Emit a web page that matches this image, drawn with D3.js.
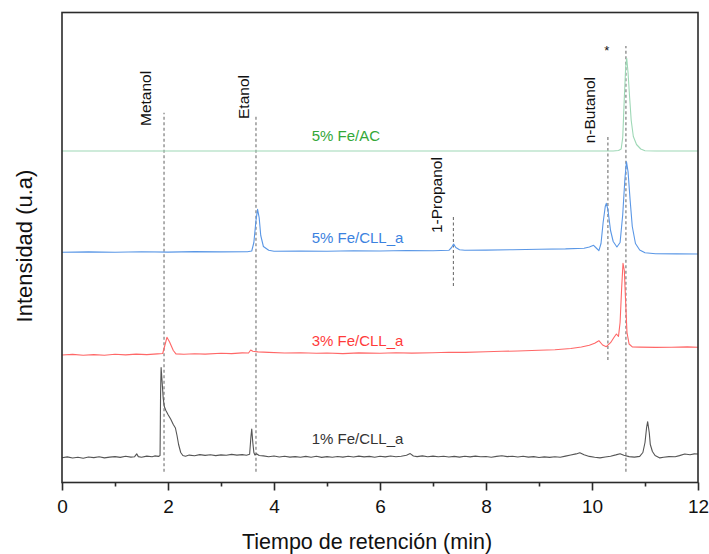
<!DOCTYPE html>
<html>
<head>
<meta charset="utf-8">
<script src="https://cdn.jsdelivr.net/npm/d3@7"></script>
<style>
  html, body { margin: 0; padding: 0; background: #fff; }
  svg text { font-family: "Liberation Sans", Arial, sans-serif; }
</style>
</head>
<body>
<svg id="chart" width="709" height="554"></svg>
<script>
// Chromatogram traces: [retention time (min), intensity (u.a)]
const traceAC5 = [
  [0, 331.5], [2, 331.5], [5, 331.5], [8, 331.5], [10.4, 331.5], [10.5, 332], [10.55, 333.5],
  [10.58, 345], [10.61, 385], [10.635, 415], [10.655, 424.2], [10.68, 410], [10.71, 385],
  [10.74, 362], [10.78, 346], [10.84, 338], [10.92, 333.5], [11.0, 331.8], [11.2, 331.5], [12, 331.5]
];
const traceCLL5 = [
  [0, 230.2], [0.5, 230.6], [1.0, 230.3], [1.5, 230.8], [2.0, 230.4], [2.5, 230.9], [3.0, 230.6],
  [3.5, 230.8], [3.58, 231.5], [3.62, 240], [3.66, 262], [3.69, 273.2], [3.72, 265], [3.75, 247],
  [3.8, 236], [3.9, 232.2], [4.0, 231.2], [4.5, 231.5], [5.0, 231.2], [5.5, 231.8], [6.0, 231.5],
  [6.5, 232], [7.0, 231.8], [7.3, 232.2], [7.35, 235], [7.39, 238.5], [7.43, 235], [7.5, 232.8],
  [7.6, 232.2], [8.0, 232.4], [8.5, 232.8], [9.0, 233.2], [9.5, 233.6], [9.85, 234.3], [9.95, 235.5],
  [10.03, 237.2], [10.08, 234.5], [10.13, 231.8], [10.17, 239], [10.21, 260], [10.25, 276],
  [10.27, 279.2], [10.3, 273], [10.35, 252], [10.4, 241], [10.47, 235.5], [10.53, 240], [10.58, 268],
  [10.62, 303], [10.65, 320.8], [10.68, 311], [10.72, 282], [10.76, 256], [10.82, 239], [10.9, 232.5],
  [11.0, 229.8], [11.2, 228.7], [11.6, 228.6], [12, 228.5]
];
const traceCLL3 = [
  [0, 127.5], [0.2, 128.1], [0.4, 127.3], [0.6, 127.9], [0.8, 127.2], [1.0, 128.2], [1.2, 127.6],
  [1.4, 128.4], [1.6, 127.9], [1.8, 128.6], [1.9, 129], [1.95, 139], [1.98, 145.2], [2.03, 140.5],
  [2.1, 132], [2.15, 128.6], [2.3, 128.2], [2.5, 128.8], [2.7, 128.4], [3.0, 129.2], [3.2, 128.9],
  [3.4, 129.6], [3.52, 129.5], [3.56, 132.5], [3.6, 131.2], [3.7, 130.6], [3.9, 130.1], [4.2, 129.5],
  [4.5, 129.8], [4.8, 129.2], [5.0, 129.5], [5.3, 128.9], [5.6, 129.6], [6.0, 129.2], [6.3, 129.7],
  [6.6, 129.4], [7.0, 129.8], [7.3, 130.3], [7.6, 130.1], [8.0, 130.7], [8.3, 131.2], [8.6, 131.5],
  [9.0, 132.2], [9.3, 132.8], [9.6, 134], [9.8, 135.5], [9.95, 137.2], [10.05, 139.3], [10.13, 141.8],
  [10.2, 137.5], [10.27, 135.8], [10.35, 139.8], [10.42, 145.5], [10.46, 148.5], [10.5, 146.2],
  [10.53, 160], [10.56, 195], [10.585, 219.2], [10.61, 212], [10.635, 180], [10.66, 150],
  [10.7, 138.5], [10.76, 135.6], [10.9, 135.4], [11.2, 135.1], [11.5, 135.3], [11.8, 135.6], [12, 135.2]
];
const traceCLL1 = [
  [0, 24.8], [0.1, 25.6], [0.2, 24.5], [0.3, 25.3], [0.4, 24.2], [0.5, 25.5], [0.6, 24.9], [0.7, 25.8],
  [0.8, 24.6], [0.9, 25.4], [1.0, 25.9], [1.1, 25.1], [1.2, 26.2], [1.3, 25.4], [1.37, 25.8],
  [1.41, 28.6], [1.44, 25.9], [1.5, 25.2], [1.6, 26.4], [1.7, 25.7], [1.75, 26.6], [1.82, 26.1],
  [1.85, 27], [1.86, 90], [1.87, 115], [1.89, 100], [1.91, 84], [1.93, 76], [1.96, 72], [2.0, 68],
  [2.05, 63.5], [2.1, 58], [2.14, 54.5], [2.17, 47], [2.2, 38], [2.24, 30], [2.28, 27], [2.33, 26.2],
  [2.4, 27.4], [2.5, 26.8], [2.6, 27.9], [2.7, 27.1], [2.8, 27.8], [2.9, 26.9], [3.0, 27.6], [3.1, 27.2],
  [3.2, 28.1], [3.3, 27.4], [3.4, 27.9], [3.48, 27.2], [3.54, 28.2], [3.565, 46], [3.58, 53.5],
  [3.6, 40], [3.62, 30], [3.64, 27.5], [3.67, 28.8], [3.72, 27], [3.8, 26.6], [3.9, 25.8], [4.0, 26.5],
  [4.1, 25.5], [4.2, 26.3], [4.3, 25.4], [4.4, 25.9], [4.5, 25.2], [4.6, 26.1], [4.7, 25.3], [4.8, 26.2],
  [4.9, 25.1], [5.0, 25.9], [5.1, 25.2], [5.2, 26.0], [5.3, 25.4], [5.4, 26.3], [5.5, 25.5], [5.6, 26.4],
  [5.7, 25.6], [5.8, 26.1], [5.9, 25.3], [6.0, 26.2], [6.1, 25.6], [6.2, 26.5], [6.3, 25.8], [6.4, 26.3],
  [6.5, 27.2], [6.57, 28.9], [6.63, 26.5], [6.7, 25.9], [6.8, 26.6], [6.9, 25.8], [7.0, 26.4],
  [7.1, 25.7], [7.2, 26.3], [7.3, 25.5], [7.4, 26.1], [7.5, 25.4], [7.6, 26.2], [7.7, 25.6], [7.8, 26.4],
  [7.9, 25.7], [8.0, 26.0], [8.1, 25.3], [8.2, 26.1], [8.3, 26.8], [8.4, 25.9], [8.5, 26.3], [8.6, 25.5],
  [8.7, 26.2], [8.8, 25.4], [8.9, 25.9], [9.0, 25.0], [9.1, 25.6], [9.2, 25.1], [9.3, 25.8], [9.4, 25.3],
  [9.5, 26.4], [9.6, 27.5], [9.7, 28.6], [9.77, 29.8], [9.85, 27.8], [9.95, 26.1], [10.05, 25.2],
  [10.15, 24.6], [10.25, 25.5], [10.35, 26.3], [10.45, 27.6], [10.53, 28.8], [10.6, 27.2], [10.7, 25.9],
  [10.8, 25.4], [10.9, 26.1], [10.96, 30], [11.0, 40], [11.03, 55], [11.05, 60.8], [11.08, 50],
  [11.1, 38], [11.14, 31], [11.19, 27], [11.28, 24.6], [11.35, 25.3], [11.45, 25.9], [11.57, 25.8],
  [11.65, 26.9], [11.75, 28.5], [11.85, 27.8], [11.93, 28.6], [12, 28.5]
];

// Trace names, colours and label positions (time, intensity at the label baseline)
const seriesNames = ["5% Fe/AC", "5% Fe/CLL_a", "3% Fe/CLL_a", "1% Fe/CLL_a"];
const seriesLineColors = ["#9ed8b6", "#5a97e6", "#ff6767", "#555555"];
const seriesTextColors = ["#33a838", "#3b82e0", "#ff3b3b", "#333333"];
const seriesLabelAt = [[4.71, 341.5], [4.71, 239.2], [4.71, 136.5], [4.71, 38.5]];

// Compound markers: name, retention time, dashed line span, label bottom and baseline offset
const compoundNames = ["Metanol", "Etanol", "1-Propanol", "n-Butanol"];
const compoundTimes = [1.925, 3.66, 7.385, 10.3];
const compoundSpans = [[10.8, 369.8], [10.8, 367.5], [196.5, 267.5], [122.5, 347.5]];
const compoundLabelBottom = [356.5, 363.5, 249.5, 339.2];
const compoundLabelTime = [1.68, 3.53, 7.17, 10.05];

// Unidentified peak marked with an asterisk
const starTime = 10.64;
const starSpan = [10.8, 436.5];
const starLabel = [10.28, 427.5];

const xTicksMajor = [0, 2, 4, 6, 8, 10, 12];
const xTicksMinor = [1, 3, 5, 7, 9, 11];

const svg = d3.select("#chart");
const x = d3.scaleLinear().domain([0, 12]).range([62, 698]);
const y = d3.scaleLinear().domain([0, 470]).range([482.5, 12.5]);

const line = d3.line().x(d => x(d[0])).y(d => y(d[1]));

// Dashed reference lines (behind traces)
const dashes = compoundTimes.map((t, i) => ({ t, span: compoundSpans[i] }))
  .concat([{ t: starTime, span: starSpan }]);
svg.append("g").selectAll("line").data(dashes).join("line")
  .attr("x1", d => x(d.t)).attr("x2", d => x(d.t))
  .attr("y1", d => y(d.span[0])).attr("y2", d => y(d.span[1]))
  .attr("stroke", "#707070").attr("stroke-width", 1.1)
  .attr("stroke-dasharray", "3,2.5");

// Traces
const traces = [traceAC5, traceCLL5, traceCLL3, traceCLL1];
svg.append("g").selectAll("path").data(traces).join("path")
  .attr("d", line)
  .attr("fill", "none")
  .attr("stroke", (d, i) => seriesLineColors[i])
  .attr("stroke-width", 1.1)
  .attr("stroke-linejoin", "round");

// Trace labels
svg.append("g").selectAll("text").data(seriesNames).join("text")
  .attr("x", (d, i) => x(seriesLabelAt[i][0]))
  .attr("y", (d, i) => y(seriesLabelAt[i][1]))
  .attr("fill", (d, i) => seriesTextColors[i])
  .attr("font-size", 15)
  .text(d => d);

// Compound labels, rotated
svg.append("g").selectAll("text").data(compoundNames).join("text")
  .attr("transform", (d, i) => `translate(${x(compoundLabelTime[i])},${y(compoundLabelBottom[i])}) rotate(-90)`)
  .attr("fill", "#111")
  .attr("font-size", 15.5)
  .text(d => d);

svg.append("text")
  .attr("x", x(starLabel[0])).attr("y", y(starLabel[1]))
  .attr("text-anchor", "middle")
  .attr("font-size", 13).attr("fill", "#111")
  .text("*");

// Frame
svg.append("rect")
  .attr("x", x(0)).attr("y", y(470))
  .attr("width", x(12) - x(0)).attr("height", y(0) - y(470))
  .attr("fill", "none").attr("stroke", "#2b2b2b").attr("stroke-width", 1.6);

// Bottom axis: major and minor ticks pointing outward
const axisMajor = d3.axisBottom(x).tickValues(xTicksMajor).tickSize(8).tickPadding(9)
  .tickFormat(d3.format("d"));
const gMajor = svg.append("g").attr("transform", `translate(0,${y(0)})`).call(axisMajor);
gMajor.select(".domain").remove();
gMajor.selectAll(".tick line").attr("stroke", "#2b2b2b").attr("stroke-width", 1.6);
gMajor.selectAll(".tick text")
  .attr("font-family", "Liberation Sans, Arial, sans-serif")
  .attr("font-size", 19).attr("fill", "#111");

const axisMinor = d3.axisBottom(x).tickValues(xTicksMinor).tickSize(4).tickFormat("");
const gMinor = svg.append("g").attr("transform", `translate(0,${y(0)})`).call(axisMinor);
gMinor.select(".domain").remove();
gMinor.selectAll(".tick line").attr("stroke", "#2b2b2b").attr("stroke-width", 1.6);

// Axis titles
svg.append("text")
  .attr("x", 367).attr("y", 548.5)
  .attr("text-anchor", "middle")
  .attr("font-size", 21.5).attr("fill", "#111")
  .text("Tiempo de retención (min)");

svg.append("text")
  .attr("transform", "translate(31.5,246) rotate(-90)")
  .attr("text-anchor", "middle")
  .attr("font-size", 22).attr("fill", "#111")
  .text("Intensidad (u.a)");
</script>
</body>
</html>
